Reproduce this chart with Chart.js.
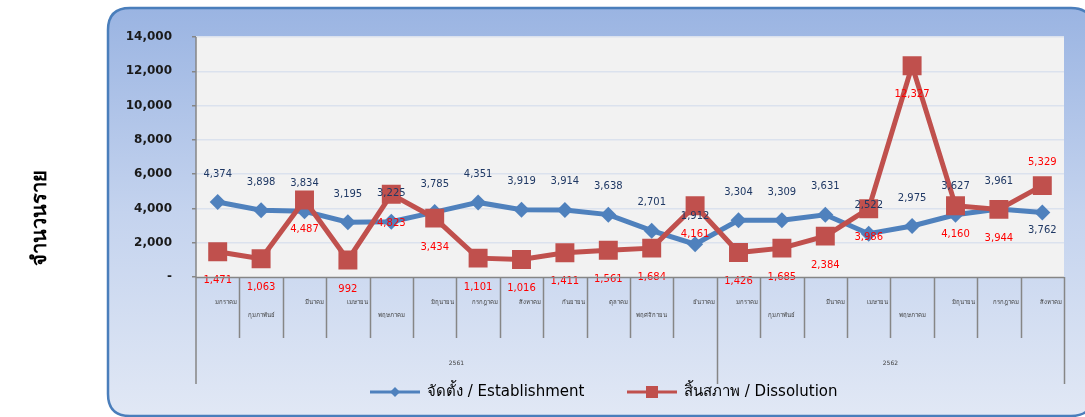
<!DOCTYPE html>
<html>
<head>
<meta charset="utf-8">
<script src="https://cdn.jsdelivr.net/npm/chart.js@4.4.1/dist/chart.umd.min.js"></script>
<style>
  html, body { margin: 0; padding: 0; background: #fff; }
  #chart { display: block; }
</style>
</head>
<body>
<canvas id="chart" width="1085" height="417"></canvas>
<script>
// 데이터
const months = ['มกราคม', 'กุมภาพันธ์', 'มีนาคม', 'เมษายน', 'พฤษภาคม', 'มิถุนายน', 'กรกฎาคม', 'สิงหาคม', 'กันยายน', 'ตุลาคม', 'พฤศจิกายน', 'ธันวาคม',
                'มกราคม', 'กุมภาพันธ์', 'มีนาคม', 'เมษายน', 'พฤษภาคม', 'มิถุนายน', 'กรกฎาคม', 'สิงหาคม'];
const years = ['2561', '2562'];
const yearMonthCounts = [12, 8];
const establishment = [4374, 3898, 3834, 3195, 3225, 3785, 4351, 3919, 3914, 3638, 2701, 1912, 3304, 3309, 3631, 2522, 2975, 3627, 3961, 3762];
const dissolution = [1471, 1063, 4487, 992, 4823, 3434, 1101, 1016, 1411, 1561, 1684, 4161, 1426, 1685, 2384, 3986, 12327, 4160, 3944, 5329];
const yMax = 14000;
const yStep = 2000;
const seriesNames = ['จัดตั้ง / Establishment', 'สิ้นสภาพ / Dissolution'];
const yTitle = 'จำนวนราย';
// 두 번째 줄에 놓이는 긴 월 이름
const longMonths = ['กุมภาพันธ์', 'พฤษภาคม', 'พฤศจิกายน'];

const BLUE = '#4f81bd';
const RED = '#c0504d';
const AXIS = '#868686';
const FONT = '"DejaVu Sans", Tahoma, "Noto Sans", sans-serif';

const fmt = v => v.toLocaleString('en-US');

// 배경 프레임 + 플롯 영역
const framePlugin = {
    id: 'frame',
    beforeDraw(chart) {
        const { ctx, chartArea } = chart;
        ctx.save();
        ctx.fillStyle = '#ffffff';
        ctx.fillRect(0, 0, chart.width, chart.height);

        const x = 108, y = 8, w = 985, h = 408, r = 22;
        ctx.beginPath();
        ctx.moveTo(x + r, y);
        ctx.lineTo(x + w - r, y);
        ctx.quadraticCurveTo(x + w, y, x + w, y + r);
        ctx.lineTo(x + w, y + h - r);
        ctx.quadraticCurveTo(x + w, y + h, x + w - r, y + h);
        ctx.lineTo(x + r, y + h);
        ctx.quadraticCurveTo(x, y + h, x, y + h - r);
        ctx.lineTo(x, y + r);
        ctx.quadraticCurveTo(x, y, x + r, y);
        ctx.closePath();
        const grad = ctx.createLinearGradient(0, y, 0, y + h);
        grad.addColorStop(0, '#9ab4e2');
        grad.addColorStop(0.5, '#c4d3ee');
        grad.addColorStop(1, '#e1e8f5');
        ctx.fillStyle = grad;
        ctx.fill();
        ctx.lineWidth = 2.5;
        ctx.strokeStyle = '#4a7ebb';
        ctx.stroke();

        ctx.fillStyle = '#f2f2f2';
        ctx.fillRect(chartArea.left, chartArea.top, chartArea.right - chartArea.left, chartArea.bottom - chartArea.top);
        ctx.restore();
    }
};

// 데이터 레이블
const valueLabelPlugin = {
    id: 'valueLabels',
    afterDatasetsDraw(chart) {
        const { ctx } = chart;
        ctx.save();
        ctx.font = '10px ' + FONT;
        ctx.textAlign = 'center';
        ctx.textBaseline = 'middle';
        chart.data.datasets.forEach((ds, di) => {
            const meta = chart.getDatasetMeta(di);
            meta.data.forEach((pt, i) => {
                const last = i === meta.data.length - 1;
                let dy;
                if (di === 0) dy = last ? 18 : -28;
                else dy = last ? -23 : 29;
                ctx.fillStyle = di === 0 ? '#1f3864' : '#ff0000';
                ctx.fillText(fmt(ds.data[i]), pt.x, pt.y + dy);
            });
        });
        ctx.restore();
    }
};

// 축, 카테고리 레이블, 범례, 제목
const axisPlugin = {
    id: 'axisDecor',
    afterDraw(chart) {
        const { ctx, chartArea } = chart;
        const left = chartArea.left, right = chartArea.right, bottom = chartArea.bottom;
        const cw = (right - left) / months.length;
        const sepBottom = 338, groupBottom = 384;
        ctx.save();
        ctx.strokeStyle = AXIS;
        ctx.lineWidth = 1.5;

        // y 축선
        ctx.beginPath();
        ctx.moveTo(left, chartArea.top);
        ctx.lineTo(left, groupBottom);
        ctx.stroke();
        // x 축선
        ctx.beginPath();
        ctx.moveTo(left, bottom + 0.5);
        ctx.lineTo(right, bottom + 0.5);
        ctx.stroke();

        // 월 구분선
        const boundaries = [];
        let acc = 0;
        yearMonthCounts.forEach(n => { acc += n; boundaries.push(acc); });
        for (let i = 1; i <= months.length; i++) {
            const x = Math.round(left + i * cw) + 0.5;
            ctx.beginPath();
            ctx.moveTo(x, bottom);
            ctx.lineTo(x, boundaries.includes(i) ? groupBottom : sepBottom);
            ctx.stroke();
        }

        // 월 레이블
        ctx.fillStyle = '#404040';
        ctx.font = '6px ' + FONT;
        ctx.textBaseline = 'middle';
        months.forEach((m, i) => {
            const x0 = left + i * cw;
            if (longMonths.includes(m)) {
                ctx.textAlign = 'center';
                ctx.fillText(m, x0 + cw / 2, 315);
            } else {
                ctx.textAlign = 'right';
                ctx.fillText(m, x0 + cw - 2, 302);
            }
        });

        // 연도 레이블
        let start = 0;
        years.forEach((y, gi) => {
            const n = yearMonthCounts[gi];
            ctx.textAlign = 'center';
            ctx.fillText(y, left + (start + n / 2) * cw, 363);
            start += n;
        });

        // 범례
        const legendY = 392;
        const items = [
            { x: 370, color: BLUE, style: 'diamond' },
            { x: 627, color: RED, style: 'square' },
        ];
        ctx.font = '15px ' + FONT;
        ctx.textAlign = 'left';
        items.forEach((it, k) => {
            ctx.strokeStyle = it.color;
            ctx.lineWidth = 3;
            ctx.beginPath();
            ctx.moveTo(it.x, legendY);
            ctx.lineTo(it.x + 50, legendY);
            ctx.stroke();
            ctx.fillStyle = it.color;
            const cx = it.x + 25;
            if (it.style === 'diamond') {
                ctx.beginPath();
                ctx.moveTo(cx - 5, legendY);
                ctx.lineTo(cx, legendY - 5);
                ctx.lineTo(cx + 5, legendY);
                ctx.lineTo(cx, legendY + 5);
                ctx.closePath();
                ctx.fill();
            } else {
                ctx.fillRect(cx - 6, legendY - 6, 12, 12);
            }
            ctx.fillStyle = '#000000';
            ctx.fillText(seriesNames[k], it.x + 57, legendY);
        });

        // y 축 제목
        ctx.translate(41, 218);
        ctx.rotate(-Math.PI / 2);
        ctx.font = 'bold 20px ' + FONT;
        ctx.textAlign = 'center';
        ctx.fillStyle = '#000000';
        ctx.fillText(yTitle, 0, 0);
        ctx.restore();
    }
};

const ctx = document.getElementById('chart').getContext('2d');
new Chart(ctx, {
    type: 'line',
    data: {
        labels: months,
        datasets: [
            {
                label: seriesNames[0],
                data: establishment,
                borderColor: BLUE,
                backgroundColor: BLUE,
                borderWidth: 5,
                pointStyle: 'rectRot',
                pointRadius: 8,
                pointBorderWidth: 0,
                tension: 0,
                order: 2,
            },
            {
                label: seriesNames[1],
                data: dissolution,
                borderColor: RED,
                backgroundColor: RED,
                borderWidth: 5,
                pointStyle: 'rect',
                pointRadius: 13.4,
                pointBorderWidth: 0,
                tension: 0,
                order: 1,
            },
        ],
    },
    options: {
        responsive: false,
        animation: false,
        devicePixelRatio: 1,
        layout: { padding: { top: 37, right: 21, bottom: 0, left: 0 } },
        plugins: {
            legend: { display: false },
            tooltip: { enabled: false },
            title: { display: false },
        },
        scales: {
            x: {
                offset: true,
                ticks: { display: false },
                grid: { display: false },
                border: { display: false },
                afterFit: s => { s.height = 140; },
            },
            y: {
                min: 0,
                max: yMax,
                ticks: {
                    stepSize: yStep,
                    padding: 20,
                    color: '#1a1a1a',
                    font: { family: FONT, size: 12, weight: 'bold' },
                    callback: v => (v === 0 ? '-' : fmt(v)),
                },
                grid: {
                    color: c => (c.tick && c.tick.value === 0 ? 'rgba(0,0,0,0)' : '#dbe2ee'),
                    tickColor: AXIS,
                    tickLength: 4,
                    lineWidth: 1.5,
                },
                border: { display: false },
                afterFit: s => { s.width = 196; },
            },
        },
    },
    plugins: [framePlugin, valueLabelPlugin, axisPlugin],
});
</script>
</body>
</html>
